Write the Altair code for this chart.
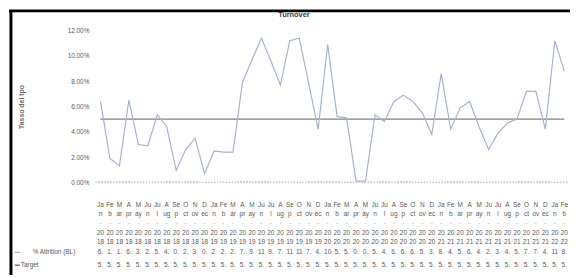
import altair as alt
import pandas as pd

# ---- data ----
month_top = ["Ja", "Fe", "M", "A", "M", "Ju", "Ju", "A", "Se", "O", "N", "D"]
month_bottom = ["n", "b", "ar", "pr", "ay", "n", "l", "ug", "p", "ct", "ov", "ec"]
years = ["2018", "2019", "2020", "2021", "2022"]
n_months = 50  # Jan 2018 .. Feb 2022

attrition = [6.4, 1.9, 1.3, 6.5, 3.0, 2.9, 5.35, 4.4, 0.95, 2.6, 3.5, 0.7,
             2.5, 2.4, 2.4, 7.9, 9.7, 11.4, 9.6, 7.7, 11.2, 11.4, 7.8, 4.2,
             10.9, 5.2, 5.1, 0.1, 0.1, 5.35, 4.8, 6.4, 6.9, 6.4, 5.5, 3.8,
             8.6, 4.2, 5.9, 6.4, 4.4, 2.6, 3.9, 4.7, 5.0, 7.2, 7.2, 4.2,
             11.2, 8.8]
target = [5.0, 5.0, 5.0, 5.0, 5.0, 5.0, 5.0, 5.0, 5.0, 5.0, 5.0, 5.0,
          5.0, 5.0, 5.0, 5.0, 5.0, 5.0, 5.0, 5.0, 5.0, 5.0, 5.0, 5.0,
          5.0, 5.0, 5.0, 5.0, 5.0, 5.0, 5.0, 5.0, 5.0, 5.0, 5.0, 5.0,
          5.0, 5.0, 5.0, 5.0, 5.0, 5.0, 5.0, 5.0, 5.0, 5.0, 5.0, 5.0,
          5.0, 5.0]
y_ticks = [0, 2, 4, 6, 8, 10, 12]

series_label = "% Attrition (BL)"
target_label = "Target"
title_text = "Turnover"
y_title = "Tasso del tpo"

# ---- table ----
rows = []
for i in range(n_months):
    m = i % 12
    y = years[i // 12]
    a = attrition[i]
    t = target[i]
    rows.append({
        "idx": i,
        "top": month_top[m],
        "bottom": month_bottom[m],
        "dash": "-",
        "cent": y[:2],
        "yr": y[2:],
        "attr": a,
        "target": t,
        "attr_txt": (f"{int(a)}." if a < 10 else f"{int(a)}"),
        "tgt_txt": f"{int(t)}.",
    })
df = pd.DataFrame(rows)

FONT = "Liberation Sans"
LINE_C = "#a3b3d6"
TGT_C = "#808080"
TXT_C = "#595959"

x_enc = alt.X("idx:O", scale=alt.Scale(type="point", padding=0.5), axis=None)
y_scale = alt.Scale(domain=[0, 12])
y_axis = alt.Axis(values=y_ticks, labelExpr="format(datum.value, '.2f') + '%'",
                  labelOverlap=False,
                  title=y_title, grid=False, domain=False, ticks=False,
                  labelPadding=7, labelFontSize=6.5, labelColor=TXT_C,
                  labelFont=FONT, titleFont=FONT, titleFontSize=7,
                  titleColor="#6a6a6a", titleFontWeight="bold",
                  titleX=-75, titleY=77, titleBaseline="middle",
                  titleAlign="center")

base = alt.Chart(df)

line = base.mark_line(color=LINE_C, strokeWidth=1.2).encode(
    x=x_enc, y=alt.Y("attr:Q", scale=y_scale, axis=y_axis))
tline = base.mark_line(color=TGT_C, strokeWidth=1.2).encode(
    x=x_enc, y=alt.Y("target:Q", scale=y_scale, axis=y_axis))

zero = base.mark_rule(color="#d0d0d0", strokeDash=[1, 2], strokeWidth=1).encode(
    x=alt.value(0), x2=alt.value(480), y=alt.datum(0, scale=y_scale, axis=y_axis))


def row(field, ypix, color=TXT_C, size=6.5):
    return base.mark_text(font=FONT, fontSize=size, color=color, baseline="middle").encode(
        x=x_enc, y=alt.value(ypix), text=alt.Text(f"{field}:N"))


table = [
    row("top", 177),
    row("bottom", 186),
    row("dash", 195, color="#bbbbbb"),
    row("cent", 205),
    row("yr", 214),
    row("attr_txt", 225),
    row("tgt_txt", 238),
]

leg_df = pd.DataFrame({"lab": [series_label, target_label]})
leg_attr_key = alt.Chart(leg_df).mark_rule(color=LINE_C, strokeWidth=1.2).encode(
    x=alt.value(-82), x2=alt.value(-77), y=alt.value(225))
leg_tgt_key = alt.Chart(leg_df).mark_rule(color=TGT_C, strokeWidth=1.2).encode(
    x=alt.value(-82), x2=alt.value(-77), y=alt.value(238))
leg_attr_txt = alt.Chart(leg_df).transform_filter(
    alt.datum.lab == series_label).mark_text(
    font=FONT, fontSize=6.5, color=TXT_C, align="left", baseline="middle").encode(
    x=alt.value(-64), y=alt.value(225), text="lab:N")
leg_tgt_txt = alt.Chart(leg_df).transform_filter(
    alt.datum.lab == target_label).mark_text(
    font=FONT, fontSize=6.5, color=TXT_C, align="left", baseline="middle").encode(
    x=alt.value(-76), y=alt.value(238), text="lab:N")

title = alt.Chart(pd.DataFrame({"t": [title_text]})).mark_text(
    font=FONT, fontSize=7.5, fontWeight="bold", color="#404040",
    baseline="middle", align="center").encode(
    x=alt.value(201), y=alt.value(-16), text="t:N")

frame_df = pd.DataFrame({"k": [0]})
left_border = alt.Chart(frame_df).mark_rule(color="#000000", strokeWidth=3).encode(
    x=alt.value(-86), y=alt.value(-21), y2=alt.value(248))
top_border = alt.Chart(frame_df).mark_rule(color="#000000", strokeWidth=3).encode(
    x=alt.value(-88), x2=alt.value(481), y=alt.value(-20))

chart = alt.layer(
    zero, tline, line, *table, leg_attr_key, leg_tgt_key, leg_attr_txt,
    leg_tgt_txt, title, left_border, top_border
).properties(
    width=480, height=154,
    autosize=alt.AutoSizeParams(type="none"),
    padding={"left": 89, "top": 21, "right": 1, "bottom": 94},
    background="#ffffff",
).configure_view(strokeWidth=0).configure_axis(labelOverlap=False, labelSeparation=0)

chart.save("out.html", embed_options={"renderer": "svg", "actions": False})
